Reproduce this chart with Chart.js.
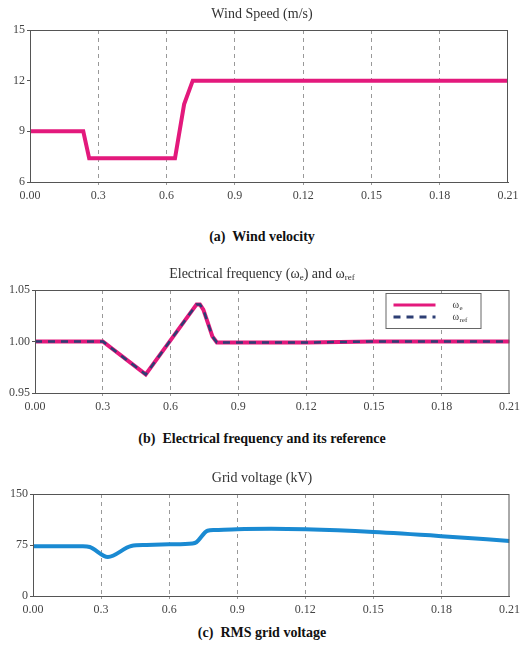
<!DOCTYPE html>
<html>
<head>
<meta charset="utf-8">
<script src="https://cdn.jsdelivr.net/npm/chart.js@4.4.1/dist/chart.umd.min.js"></script>
<style>
  body { margin: 0; background: #fff; font-family: "Liberation Serif", serif; }
  .wrap { position: relative; width: 524px; height: 657px; overflow: hidden; }
  .box { position: absolute; left: 0; width: 524px; }
  .title { position: absolute; left: 0; width: 524px; text-align: center; font-size: 14px; color: #333; }
  .cap { position: absolute; left: 0; width: 524px; text-align: center; font-size: 14px; font-weight: bold; color: #111; white-space: pre; }
  sub { font-size: 9px; vertical-align: -2px; }
</style>
</head>
<body>
<div class="wrap">
  <div class="box" style="top:0px;height:206px"><canvas id="windChart"></canvas></div>
  <div class="title" style="top:6px">Wind Speed (m/s)</div>
  <div class="cap" style="top:229px">(a)  Wind velocity</div>

  <div class="box" style="top:260px;height:157px"><canvas id="freqChart"></canvas></div>
  <div class="title" style="top:266px">Electrical frequency (ω<sub>e</sub>) and ω<sub>ref</sub></div>
  <div class="cap" style="top:431px">(b)  Electrical frequency and its reference</div>

  <div class="box" style="top:464px;height:156px"><canvas id="voltChart"></canvas></div>
  <div class="title" style="top:470px">Grid voltage (kV)</div>
  <div class="cap" style="top:625px">(c)  RMS grid voltage</div>
</div>
<script>
// x axis (labels as printed in the figure)
const xTicks = [0, 0.03, 0.06, 0.09, 0.12, 0.15, 0.18, 0.21]
const xLabels = ["0.00", "0.3", "0.6", "0.9", "0.12", "0.15", "0.18", "0.21"]

// (a) wind speed
const windTime = [0, 0.0234, 0.026, 0.0637, 0.0677, 0.0715, 0.21]
const windSpeed = [9, 9, 7.4, 7.4, 10.6, 12, 12]
const windTicks = [6, 9, 12, 15]

// (b) electrical frequency and reference
const freqTime = [0, 0.03, 0.049, 0.0715, 0.073, 0.0745, 0.0765, 0.0785, 0.0805, 0.10, 0.12, 0.15, 0.21]
const omegaE = [1.0, 1.0, 0.968, 1.036, 1.036, 1.031, 1.018, 1.005, 0.999, 0.999, 0.999, 1.0, 1.0]
const omegaRef = [1.0, 1.0, 0.968, 1.036, 1.036, 1.031, 1.018, 1.005, 0.999, 0.999, 0.999, 1.0, 1.0]
const freqTicks = [0.95, 1.0, 1.05]

// (c) grid voltage
const voltTime = [0, 0.022, 0.025, 0.033, 0.0433, 0.05, 0.06, 0.0703, 0.072, 0.0769, 0.08, 0.09, 0.105, 0.12, 0.15, 0.18, 0.21]
const gridVolt = [73, 73, 72, 57.5, 73.5, 75, 76, 77.3, 79, 96, 97, 98.3, 98.8, 98, 94, 88, 81]
const voltTicks = [0, 75, 150]

const tickFont = { family: "Liberation Serif", size: 12 }

function pts(xs, ys) {
    return xs.map((x, i) => ({ x: x, y: ys[i] }))
}

// box round the plot area
const frame = {
    id: "frame",
    afterDatasetsDraw(chart) {
        const a = chart.chartArea
        const ctx = chart.ctx
        ctx.save()
        ctx.strokeStyle = "#555"
        ctx.lineWidth = 1
        ctx.strokeRect(a.left + 0.5, a.top + 0.5, a.right - a.left - 1, a.bottom - a.top)
        ctx.restore()
    }
}

// legend inside the plot for (b)
const legendBox = {
    id: "legendBox",
    afterDraw(chart) {
        const a = chart.chartArea
        const ctx = chart.ctx
        const x0 = a.right - 124, y0 = a.top + 3, w = 95, h = 35
        ctx.save()
        ctx.fillStyle = "#fff"
        ctx.fillRect(x0, y0, w, h)
        ctx.strokeStyle = "#666"
        ctx.lineWidth = 1
        ctx.strokeRect(x0 + 0.5, y0 + 0.5, w, h)
        chart.data.datasets.forEach((ds, i) => {
            const y = y0 + 12 + i * 12
            ctx.beginPath()
            ctx.strokeStyle = ds.borderColor
            ctx.lineWidth = ds.legendWidth
            ctx.setLineDash(ds.borderDash || [])
            ctx.moveTo(x0 + 8, y)
            ctx.lineTo(x0 + 50, y)
            ctx.stroke()
            ctx.setLineDash([])
            ctx.fillStyle = "#333"
            ctx.font = "10px 'Liberation Serif'"
            ctx.textBaseline = "middle"
            ctx.fillText("ω", x0 + 67, y)
            ctx.font = "7px 'Liberation Serif'"
            ctx.fillText(ds.sub, x0 + 74, y + 3)
        })
        ctx.restore()
    }
}

function makeOptions(yTicks, yWidth, padRight) {
    return {
        responsive: true,
        maintainAspectRatio: false,
        animation: false,
        layout: { padding: { top: 30, right: padRight, left: 0, bottom: 0 } },
        plugins: { legend: { display: false }, tooltip: { enabled: false } },
        elements: { point: { radius: 0 } },
        scales: {
            x: {
                type: "linear",
                min: 0,
                max: 0.21,
                afterBuildTicks: (s) => { s.ticks = xTicks.map(v => ({ value: v })) },
                afterFit: (s) => { s.height = 24 },
                ticks: {
                    autoSkip: false,
                    maxRotation: 0,
                    padding: 4,
                    color: "#444",
                    font: tickFont,
                    callback: (v) => xLabels[xTicks.findIndex(t => Math.abs(t - v) < 1e-6)]
                },
                grid: {
                    drawTicks: true,
                    tickLength: 3,
                    color: (c) => (c.index === 0 || c.index === xTicks.length - 1) ? "rgba(0,0,0,0)" : "#999"
                },
                border: { display: true, color: "#555", dash: [4, 4] }
            },
            y: {
                min: yTicks[0],
                max: yTicks[yTicks.length - 1],
                afterBuildTicks: (s) => { s.ticks = yTicks.map(v => ({ value: v })) },
                afterFit: (s) => { s.width = yWidth },
                ticks: {
                    padding: 2,
                    color: "#444",
                    font: tickFont,
                    callback: (v) => yTicks[0] < 1.5 && yTicks[0] > 0 ? v.toFixed(2) : v
                },
                grid: { display: true, drawOnChartArea: false, drawTicks: true, tickLength: 3, color: "#555" },
                border: { display: true, color: "#555" }
            }
        }
    }
}

new Chart(document.getElementById("windChart"), {
    type: "line",
    data: {
        datasets: [{
            data: pts(windTime, windSpeed),
            borderColor: "#e3197c",
            borderWidth: 4,
            tension: 0
        }]
    },
    options: makeOptions(windTicks, 30, 16),
    plugins: [frame]
})

new Chart(document.getElementById("freqChart"), {
    type: "line",
    data: {
        datasets: [{
            data: pts(freqTime, omegaE),
            borderColor: "#e3197c",
            borderWidth: 4,
            legendWidth: 3,
            sub: "e",
            order: 2,
            tension: 0
        }, {
            data: pts(freqTime, omegaRef),
            borderColor: "#2d3e74",
            borderWidth: 2.5,
            legendWidth: 3,
            borderDash: [7, 6],
            sub: "ref",
            order: 1,
            tension: 0
        }]
    },
    options: makeOptions(freqTicks, 35, 12),
    plugins: [frame, legendBox]
})

new Chart(document.getElementById("voltChart"), {
    type: "line",
    data: {
        datasets: [{
            data: pts(voltTime, gridVolt),
            borderColor: "#1a8ad2",
            borderWidth: 4,
            cubicInterpolationMode: "monotone"
        }]
    },
    options: makeOptions(voltTicks, 33, 12),
    plugins: [frame]
})
</script>
</body>
</html>
